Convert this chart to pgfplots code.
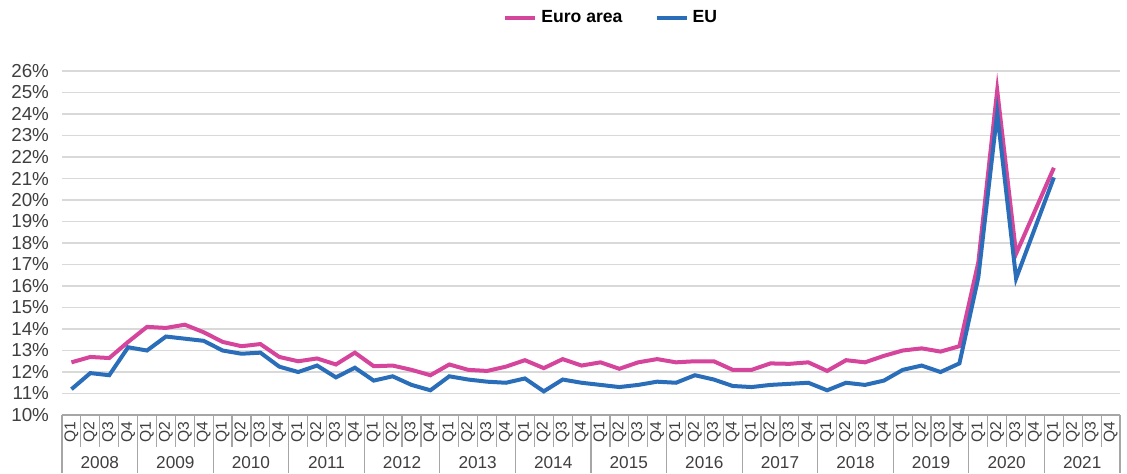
\documentclass[border=0pt]{standalone}
\usepackage{fontspec}
\setmainfont{Liberation Sans}
\usepackage{pgfplots}
\usepackage{pgfplotstable}
\pgfplotsset{compat=1.18}
\definecolor{euroarea}{HTML}{D5459B}
\definecolor{eu}{HTML}{2A6DB9}
\definecolor{gridgray}{HTML}{D9D9D9}
\definecolor{axisgray}{HTML}{A6A6A6}
\definecolor{labelgray}{HTML}{3F3F3F}

% quarter index (2008Q1 = 1), euro area, EU
\pgfplotstableread{
q  ea     eu
1  12.45  11.20
2  12.70  11.95
3  12.65  11.85
4  13.40  13.15
5  14.10  13.00
6  14.05  13.65
7  14.20  13.55
8  13.85  13.45
9  13.40  13.00
10 13.20  12.85
11 13.30  12.90
12 12.70  12.25
13 12.50  12.00
14 12.63  12.30
15 12.35  11.75
16 12.90  12.20
17 12.27  11.60
18 12.30  11.80
19 12.10  11.40
20 11.85  11.15
21 12.35  11.80
22 12.10  11.65
23 12.05  11.55
24 12.25  11.50
25 12.55  11.70
26 12.18  11.10
27 12.60  11.65
28 12.30  11.50
29 12.45  11.40
30 12.15  11.30
31 12.45  11.40
32 12.60  11.55
33 12.45  11.50
34 12.50  11.85
35 12.50  11.65
36 12.10  11.35
37 12.10  11.30
38 12.40  11.40
39 12.38  11.45
40 12.45  11.50
41 12.05  11.15
42 12.55  11.50
43 12.45  11.40
44 12.75  11.60
45 13.00  12.10
46 13.10  12.30
47 12.95  12.00
48 13.20  12.40
49 17.10  16.40
50 25.10  24.05
51 17.50  16.35
52 19.50  18.70
53 21.50  21.05
}\ratedata

\begin{document}
\begin{tikzpicture}
\begin{axis}[
  scale only axis,
  width=529pt, height=172pt,
  xmin=0.5, xmax=56.5,
  ymin=10, ymax=26,
  ytick={10,11,...,26},
  yticklabel={\pgfmathprintnumber{\tick}\%},
  /pgf/number format/assume math mode=true,
  yticklabel style={font=\fontsize{9.4}{10}\selectfont, text=labelgray, xshift=-3pt},
  xtick={1,...,56},
  xticklabels={Q1,Q2,Q3,Q4,Q1,Q2,Q3,Q4,Q1,Q2,Q3,Q4,Q1,Q2,Q3,Q4,
               Q1,Q2,Q3,Q4,Q1,Q2,Q3,Q4,Q1,Q2,Q3,Q4,Q1,Q2,Q3,Q4,
               Q1,Q2,Q3,Q4,Q1,Q2,Q3,Q4,Q1,Q2,Q3,Q4,Q1,Q2,Q3,Q4,
               Q1,Q2,Q3,Q4,Q1,Q2,Q3,Q4},
  xticklabel style={rotate=90, anchor=east, font=\fontsize{7.8}{8}\selectfont, text=labelgray, xshift=0pt, yshift=0pt},
  tick style={draw=none},
  axis x line*=bottom,
  axis y line*=left,
  x axis line style={draw=axisgray, line width=0.8pt, -},
  y axis line style={draw=none},
  ymajorgrids,
  grid style={gridgray, line width=0.8pt},
  clip=false,
  legend columns=2,
  legend style={at={(axis description cs:0.52,1.154)}, anchor=center, draw=none, fill=none,
    font=\fontsize{8.8}{10}\selectfont\bfseries,
    /tikz/every even column/.append style={column sep=14pt}},
  legend image code/.code={\draw[#1, line width=2pt] (0pt,0pt) -- (15pt,0pt);},
]
\addplot[euroarea, line width=2pt] table[x=q, y=ea] {\ratedata};
\addlegendentry{Euro area}
\addplot[eu, line width=2pt] table[x=q, y=eu] {\ratedata};
\addlegendentry{EU}

\pgfplotsinvokeforeach{0.5,1.5,...,56.5}{
  \draw[axisgray, line width=0.6pt] (axis cs:#1,10) -- ([yshift=-16pt]axis cs:#1,10);
}
\pgfplotsinvokeforeach{0.5,4.5,...,56.5}{
  \draw[axisgray, line width=0.6pt] (axis cs:#1,10) -- ([yshift=-29pt]axis cs:#1,10);
}
\pgfplotsinvokeforeach{0,...,13}{
  \node[font=\fontsize{8.6}{10}\selectfont, text=labelgray] at (axis cs:2.5+4*#1,10) [yshift=-24pt] {\pgfmathtruncatemacro\yr{2008+#1}\yr};
}
\coordinate (bl) at (rel axis cs:0,0);
\coordinate (tr) at (rel axis cs:1,1);
\end{axis}
\pgfresetboundingbox
\path[use as bounding box] ([xshift=-31pt, yshift=-29pt]bl) rectangle ([xshift=3.5pt, yshift=35.5pt]tr);
\end{tikzpicture}
\end{document}
